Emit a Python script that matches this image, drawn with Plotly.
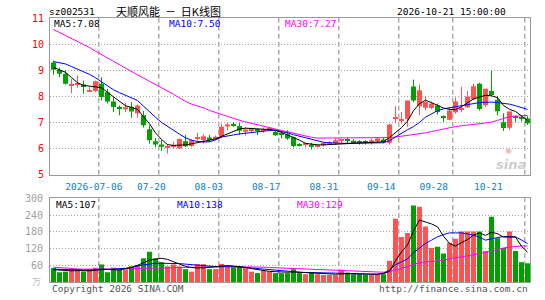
import plotly.graph_objects as go

# ---------------- data ----------------
tick_labels = ["2026-07-06", "07-20", "08-03", "08-17", "08-31", "09-14", "09-28", "10-21"]
grid_candles = [8, 18, 28, 38, 48, 58, 67, 79]

opens = [9.30, 9.01, 8.86, 8.43, 8.45, 8.45, 8.20, 8.20, 8.48, 8.16,
         7.80, 7.57, 7.50, 7.60, 7.35, 7.27, 6.74, 6.28, 6.15, 6.04,
         6.07, 6.00, 6.28, 6.10, 6.40, 6.32, 6.42, 6.36, 6.45, 6.84,
         6.92, 6.86, 6.64, 6.67, 6.72, 6.67, 6.72, 6.64, 6.56, 6.55,
         6.43, 6.14, 6.14, 6.15, 6.09, 6.13, 6.21, 6.20, 6.30, 6.33,
         6.30, 6.24, 6.25, 6.23, 6.28, 6.35, 6.22, 7.16, 7.08, 7.14,
         8.38, 7.62, 7.56, 7.55, 7.65, 7.20, 7.10, 7.39, 7.48, 7.58,
         7.89, 8.48, 7.66, 8.20, 7.87, 7.01, 6.80, 7.20, 7.20, 7.15]
highs = [9.36, 9.10, 9.00, 8.67, 8.80, 8.60, 8.35, 8.60, 8.73, 8.28,
         7.97, 7.65, 7.75, 7.78, 7.69, 7.44, 6.89, 6.40, 6.32, 6.17,
         6.27, 6.38, 6.53, 6.35, 6.60, 6.55, 6.52, 6.50, 6.95, 6.99,
         7.02, 6.98, 6.82, 6.80, 6.76, 6.80, 6.83, 6.70, 6.64, 6.70,
         6.46, 6.20, 6.22, 6.22, 6.18, 6.25, 6.28, 6.38, 6.36, 6.42,
         6.36, 6.32, 6.33, 6.38, 6.45, 6.42, 6.95, 7.62, 7.40, 7.84,
         8.64, 8.45, 8.00, 7.80, 7.72, 7.27, 7.56, 7.95, 8.36, 8.20,
         8.48, 8.52, 8.29, 8.99, 8.02, 7.35, 7.42, 7.27, 7.24, 7.24]
lows = [8.82, 8.73, 8.45, 8.12, 8.33, 8.10, 8.17, 8.16, 7.84, 7.72,
        7.40, 7.27, 7.40, 7.18, 7.18, 6.80, 6.19, 6.05, 5.91, 5.81,
        6.00, 5.98, 6.06, 6.05, 6.30, 6.19, 6.25, 6.32, 6.39, 6.70,
        6.83, 6.52, 6.50, 6.60, 6.51, 6.60, 6.66, 6.48, 6.38, 6.33,
        6.04, 6.08, 6.05, 5.96, 6.05, 6.08, 6.15, 6.15, 6.20, 6.20,
        6.18, 6.15, 6.15, 6.15, 6.22, 6.20, 6.15, 6.98, 6.95, 6.83,
        7.78, 7.28, 7.46, 7.50, 7.30, 7.02, 7.08, 7.33, 7.39, 7.55,
        7.85, 7.45, 7.59, 8.02, 7.27, 6.67, 6.70, 7.02, 7.05, 6.90]
closes = [9.02, 8.86, 8.48, 8.46, 8.48, 8.36, 8.22, 8.58, 7.97, 7.80,
          7.59, 7.55, 7.58, 7.42, 7.65, 6.89, 6.32, 6.15, 6.07, 6.10,
          6.11, 6.36, 6.09, 6.32, 6.42, 6.47, 6.33, 6.45, 6.83, 6.92,
          6.90, 6.68, 6.73, 6.76, 6.70, 6.75, 6.80, 6.51, 6.54, 6.38,
          6.10, 6.12, 6.16, 6.07, 6.11, 6.22, 6.23, 6.32, 6.32, 6.31,
          6.20, 6.22, 6.23, 6.32, 6.38, 6.25, 6.92, 7.20, 7.12, 7.84,
          7.84, 8.23, 7.78, 7.72, 7.40, 7.18, 7.46, 7.80, 7.52, 7.99,
          8.39, 7.51, 8.29, 8.05, 7.43, 6.79, 7.42, 7.17, 7.14, 6.97]
ma5 = [9.11, 9.02, 8.92, 8.72, 8.52, 8.42, 8.39, 8.37, 8.33, 8.15,
       7.98, 7.80, 7.64, 7.57, 7.50, 7.22, 6.95, 6.60, 6.35, 6.15,
       6.12, 6.13, 6.14, 6.18, 6.22, 6.26, 6.32, 6.37, 6.46, 6.56,
       6.66, 6.75, 6.78, 6.76, 6.74, 6.74, 6.73, 6.70, 6.62, 6.53,
       6.42, 6.32, 6.20, 6.16, 6.14, 6.14, 6.15, 6.17, 6.19, 6.20,
       6.21, 6.22, 6.23, 6.23, 6.24, 6.26, 6.42, 6.62, 6.80, 7.05,
       7.45, 7.72, 7.85, 7.76, 7.65, 7.55, 7.50, 7.49, 7.60, 7.75,
       7.90, 7.97, 8.04, 8.02, 7.95, 7.65, 7.50, 7.42, 7.26, 7.08]
ma10 = [9.33, 9.29, 9.24, 9.14, 9.05, 8.96, 8.84, 8.71, 8.56, 8.40,
        8.25, 8.14, 8.04, 7.95, 7.84, 7.62, 7.40, 7.20, 7.00, 6.84,
        6.70, 6.55, 6.41, 6.32, 6.27, 6.25, 6.26, 6.33, 6.44, 6.49,
        6.52, 6.56, 6.59, 6.62, 6.65, 6.67, 6.69, 6.70, 6.66, 6.60,
        6.53, 6.47, 6.42, 6.35, 6.28, 6.24, 6.22, 6.20, 6.20, 6.20,
        6.20, 6.20, 6.20, 6.20, 6.20, 6.22, 6.30, 6.45, 6.58, 6.72,
        6.84, 7.00, 7.20, 7.32, 7.45, 7.52, 7.56, 7.60, 7.65, 7.68,
        7.72, 7.76, 7.77, 7.78, 7.76, 7.73, 7.70, 7.64, 7.57, 7.50]
ma30 = [10.56, 10.45, 10.34, 10.23, 10.12, 10.00, 9.87, 9.73, 9.60, 9.46,
        9.32, 9.18, 9.06, 8.94, 8.82, 8.70, 8.58, 8.46, 8.34, 8.22,
        8.08, 7.94, 7.80, 7.70, 7.64, 7.56, 7.46, 7.38, 7.30, 7.22,
        7.14, 7.08, 7.02, 6.96, 6.91, 6.85, 6.80, 6.74, 6.69, 6.64,
        6.58, 6.53, 6.48, 6.43, 6.40, 6.40, 6.40, 6.40, 6.40, 6.40,
        6.40, 6.40, 6.40, 6.40, 6.40, 6.40, 6.42, 6.44, 6.47, 6.50,
        6.53, 6.56, 6.60, 6.65, 6.70, 6.75, 6.80, 6.84, 6.87, 6.89,
        6.92, 6.95, 6.98, 7.01, 7.08, 7.16, 7.22, 7.24, 7.26, 7.27]
volumes = [50, 35, 37, 45, 45, 37, 45, 51, 63, 35,
           51, 45, 45, 56, 61, 85, 108, 85, 71, 56,
           63, 56, 46, 37, 64, 64, 46, 46, 65, 55,
           52, 55, 50, 37, 32, 41, 37, 32, 32, 32,
           46, 32, 28, 34, 28, 25, 25, 25, 44, 34,
           28, 28, 25, 25, 28, 28, 76, 227, 161, 176,
           274, 270, 199, 122, 126, 102, 141, 155, 181, 181,
           181, 181, 111, 234, 157, 122, 181, 111, 71, 67]
vma5 = [44, 42, 40, 40, 41, 40, 40, 42, 46, 45,
        43, 43, 48, 52, 60, 70, 78, 82, 85, 81,
        73, 64, 56, 52, 50, 51, 53, 55, 57, 59,
        57, 55, 52, 48, 44, 40, 38, 37, 35, 35,
        36, 35, 34, 33, 31, 30, 28, 28, 29, 30,
        30, 29, 28, 28, 28, 30, 38, 76, 108, 133,
        183, 222, 216, 208, 198, 164, 138, 129, 141, 152,
        168, 176, 167, 178, 173, 161, 161, 161, 128, 107]
vma10 = [46, 45, 45, 44, 44, 43, 43, 43, 44, 45,
         46, 47, 49, 52, 57, 62, 64, 67, 67, 67,
         67, 66, 64, 62, 61, 60, 58, 55, 55, 55,
         55, 54, 52, 50, 47, 46, 44, 42, 40, 38,
         37, 35, 34, 34, 33, 33, 32, 32, 31, 30,
         29, 29, 28, 28, 28, 32, 42, 62, 72, 83,
         105, 122, 138, 150, 162, 170, 176, 176, 176, 172,
         168, 160, 150, 155, 160, 163, 163, 162, 150, 138]
vma30 = [53, 51, 49, 48, 47, 46, 46, 46, 46, 46,
         46, 46, 46, 46, 47, 48, 49, 50, 51, 52,
         52, 52, 52, 52, 52, 53, 53, 54, 54, 55,
         55, 55, 54, 54, 53, 53, 52, 51, 50, 49,
         48, 47, 46, 45, 44, 43, 42, 41, 40, 40,
         39, 38, 37, 37, 36, 35, 37, 44, 49, 55,
         63, 70, 72, 73, 75, 79, 84, 87, 90, 94,
         97, 101, 105, 110, 116, 122, 125, 128, 129, 129]

code = "sz002531"
title = "天顺风能\u00a0\u00a0－\u00a0\u00a0日K线图"
stamp = "2026-10-21 15:00:00"
legend_price = ["MA5:7.08", "MA10:7.50", "MA30:7.27"]
legend_vol = ["MA5:107", "MA10:138", "MA30:129"]
price_ticks = [5, 6, 7, 8, 9, 10, 11]
vol_ticks = [60, 120, 180, 240, 300]

# ---------------- styles / layout helpers ----------------
RED = "#ff5252"
GREEN = "#00a000"
MONO = "DejaVu Sans Mono"
W, H = 545, 300
L, R, T, B = 50, 15, 18, 14
PW, PH = W - L - R, H - T - B


def px(x):
    return (x - L) / PW


def py(y):
    return (H - B - y) / PH


n = len(closes)
xs = list(range(n))
up = [c >= o for o, c in zip(opens, closes)]

fig = go.Figure()

for flag, color in [(True, RED), (False, GREEN)]:
    idx = [i for i in xs if up[i] == flag]
    wx, wy = [], []
    for i in idx:
        wx += [i, i, None]
        wy += [lows[i], highs[i], None]
    fig.add_trace(go.Scatter(x=wx, y=wy, mode="lines", line=dict(color=color, width=1),
                             xaxis="x", yaxis="y", hoverinfo="skip"))
    fig.add_trace(go.Bar(x=idx,
                         y=[max(abs(closes[i] - opens[i]), 0.04) for i in idx],
                         base=[min(opens[i], closes[i]) for i in idx],
                         width=0.83, marker=dict(color=color, line=dict(width=0)),
                         xaxis="x", yaxis="y"))
    fig.add_trace(go.Bar(x=idx, y=[volumes[i] for i in idx], width=0.83,
                         marker=dict(color=color, line=dict(width=0)),
                         xaxis="x2", yaxis="y2"))

for vals, color in [(ma30, "#ff00ff"), (ma10, "#0000ff"), (ma5, "#000000")]:
    fig.add_trace(go.Scatter(x=xs, y=vals, mode="lines", line=dict(color=color, width=1),
                             xaxis="x", yaxis="y"))
for vals, color in [(vma30, "#ff00ff"), (vma10, "#0000ff"), (vma5, "#000000")]:
    fig.add_trace(go.Scatter(x=xs, y=vals, mode="lines", line=dict(color=color, width=1),
                             xaxis="x2", yaxis="y2"))

xr = [-0.5 - 1 / 12, n - 0.5 - 1 / 12]
label_pos = [6.72, 16.3, 25.88, 35.45, 45.05, 54.63, 63.37, 72.47]

shapes = []
for k in grid_candles:
    for yref in ("y domain", "y2 domain"):
        shapes.append(dict(type="line", xref="x", yref=yref, x0=k - 0.45, x1=k - 0.45,
                           y0=0, y1=1, layer="below",
                           line=dict(color="#a2a2a2", width=1.3, dash="5px,3px")))

ann = []


def txt(s, x, y, color="#000", size=9.5, anchor="left", family=MONO):
    ann.append(dict(text=s, xref="paper", yref="paper", x=px(x), y=py(y),
                    xanchor=anchor, yanchor="middle", showarrow=False,
                    font=dict(family=family, size=size, color=color)))


txt(code, 47, 11.7)
txt(title, 114, 10.5, size=11, family="Noto Sans CJK SC")
txt(stamp, 507.5, 11.7, anchor="right")
for s, x0, c in zip(legend_price, [52, 167, 282.5], ["#000", "#0000ff", "#ff00ff"]):
    txt(s, x0, 24, color=c)
for s, x0, c in zip(legend_vol, [54, 175, 295], ["#000", "#0000ff", "#ff00ff"]):
    txt(s, x0, 207, color=c)
txt("Copyright 2026 SINA.COM", 50, 292.7, color="#555")
txt("http://finance.sina.com.cn", 529.5, 292.7, color="#555", anchor="right")
txt("万", 43, 285, color="#c0c0c0", size=9, anchor="right", family="Noto Sans CJK SC")
txt("<b><i>sina</i></b>", 528, 167, color="#cfcfcf", size=13, anchor="right",
    family="DejaVu Sans")
txt("◉", 508, 152.5, color="#f2b4b4", size=8, anchor="center", family="DejaVu Sans")

axis_common = dict(showline=True, mirror=True, linecolor="#9a9a9a", linewidth=1,
                   zeroline=False, fixedrange=True)

fig.update_layout(
    width=W, height=H, margin=dict(l=L, r=R, t=T, b=B, pad=0),
    paper_bgcolor="white", plot_bgcolor="white",
    showlegend=False, barmode="overlay",
    xaxis=dict(domain=[0, 1], anchor="y", range=xr, showgrid=False,
               tickmode="array", tickvals=label_pos, ticktext=tick_labels,
               tickfont=dict(family=MONO, size=9.5, color="#0a80d0"),
               ticks="outside", ticklen=3, tickcolor="rgba(0,0,0,0)", **axis_common),
    xaxis2=dict(domain=[0, 1], anchor="y2", range=xr, showgrid=False,
                showticklabels=False, **axis_common),
    yaxis=dict(domain=[py(177), 1], anchor="x", range=[5, 11],
               tickmode="array", tickvals=price_ticks,
               tickfont=dict(family=MONO, size=10, color="#ff0000"),
               showgrid=True, gridcolor="#a8a8a8", griddash="1px,2px", gridwidth=1,
               ticks="outside", ticklen=3, tickcolor="rgba(0,0,0,0)", **axis_common),
    yaxis2=dict(domain=[0, py(201)], anchor="x2", range=[0, 300],
                tickmode="array", tickvals=vol_ticks,
                tickfont=dict(family=MONO, size=10, color="#a0a0a0"),
                showgrid=True, gridcolor="#a8a8a8", griddash="1px,2px", gridwidth=1,
                ticks="outside", ticklen=4, tickcolor="rgba(0,0,0,0)", **axis_common),
    shapes=shapes, annotations=ann,
)

fig.write_html("out.html")
